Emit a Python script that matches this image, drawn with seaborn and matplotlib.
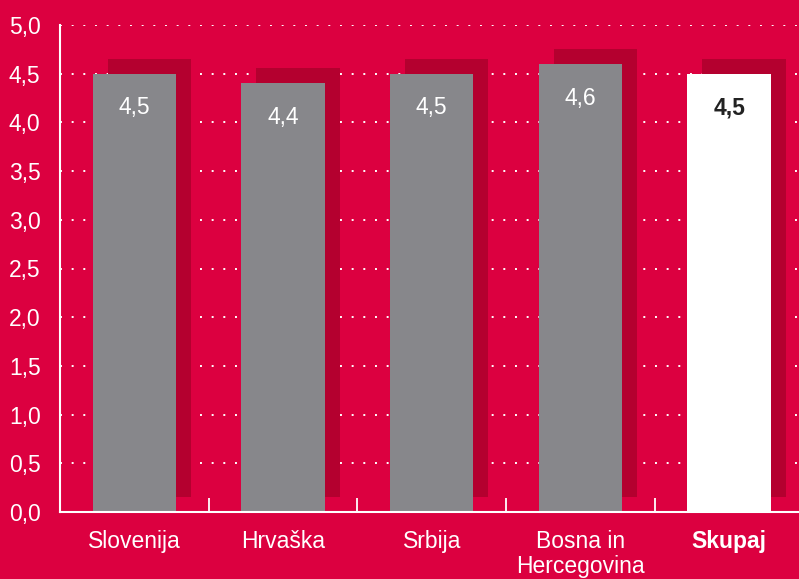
import matplotlib
matplotlib.use("Agg")
import matplotlib.pyplot as plt
import matplotlib.transforms as mtransforms
from matplotlib.ticker import FixedLocator, FuncFormatter
import seaborn as sns
import pandas as pd

categories = ["Slovenija", "Hrvaška", "Srbija", "Bosna in\nHercegovina", "Skupaj"]
values = [4.5, 4.4, 4.5, 4.6, 4.5]
value_labels = ["4,5", "4,4", "4,5", "4,6", "4,5"]
y_ticks = [0.0, 0.5, 1.0, 1.5, 2.0, 2.5, 3.0, 3.5, 4.0, 4.5, 5.0]

BG = "#DC0040"
SHADOW = "#B4002F"
GRAY = "#87878B"

sns.set_theme(style="white")
plt.rcParams["font.family"] = ["Liberation Sans", "DejaVu Sans"]

df = pd.DataFrame({"cat": categories, "val": values})
bar_colors = [GRAY, GRAY, GRAY, GRAY, "#FFFFFF"]

fig = plt.figure(figsize=(7.99, 5.79), dpi=100, facecolor=BG)
ax = fig.add_axes([60 / 799, 67 / 579, 1 - 60 / 799, 487 / 579])
ax.set_facecolor(BG)

# shadow bars
sns.barplot(data=df, x="cat", y="val", color=SHADOW, width=0.56, ax=ax,
            saturation=1, zorder=1, errorbar=None)
n_shadow = len(ax.patches)
off = mtransforms.offset_copy(ax.transData, fig=fig, x=15, y=0, units="dots")
for p in ax.patches[:n_shadow]:
    p.set_transform(off)
    p.set_facecolor(SHADOW)
    p.set_edgecolor("none")
    p.set_y(p.get_y() + 0.155)

# main bars
sns.barplot(data=df, x="cat", y="val", hue="cat", palette=bar_colors, width=0.56,
            ax=ax, saturation=1, zorder=2, legend=False, errorbar=None)
for p in ax.patches[n_shadow:]:
    p.set_edgecolor("none")

ax.set_xlim(-0.5, 4.47)
ax.set_ylim(0, 5.0)

ax.yaxis.set_major_locator(FixedLocator(y_ticks))
ax.yaxis.set_major_formatter(FuncFormatter(lambda v, _: f"{v:.1f}".replace(".", ",")))
ax.tick_params(axis="y", length=0, labelsize=16.5, labelcolor="white", pad=14)
ax.grid(axis="y", color="white", linestyle=(0, (1, 5)), linewidth=1.4, zorder=0)
ax.set_axisbelow(True)

ax.set_xlabel("")
ax.set_ylabel("")
ax.set_xticks(range(len(categories)))
ax.set_xticklabels(categories, fontsize=16.5, color="white", linespacing=1.1)
ax.tick_params(axis="x", which="major", length=0, pad=13, bottom=True)
ax.get_xticklabels()[-1].set_fontweight("bold")
ax.set_xticks([0.5, 1.5, 2.5, 3.5], minor=True)
ax.tick_params(axis="x", which="minor", direction="in", length=10, width=1.3,
               color="white", bottom=True)

for s in ["top", "right"]:
    ax.spines[s].set_visible(False)
for s in ["left", "bottom"]:
    ax.spines[s].set_color("white")
    ax.spines[s].set_linewidth(1.5)
    ax.spines[s].set_zorder(5)

for i, (v, lab) in enumerate(zip(values, value_labels)):
    last = i == len(values) - 1
    ax.text(i, v - 0.35, lab, ha="center", va="center", fontsize=16.5,
            color="#222222" if last else "white",
            fontweight="bold" if last else "normal", zorder=6)

fig.savefig("out.png", dpi=100, facecolor=BG)
